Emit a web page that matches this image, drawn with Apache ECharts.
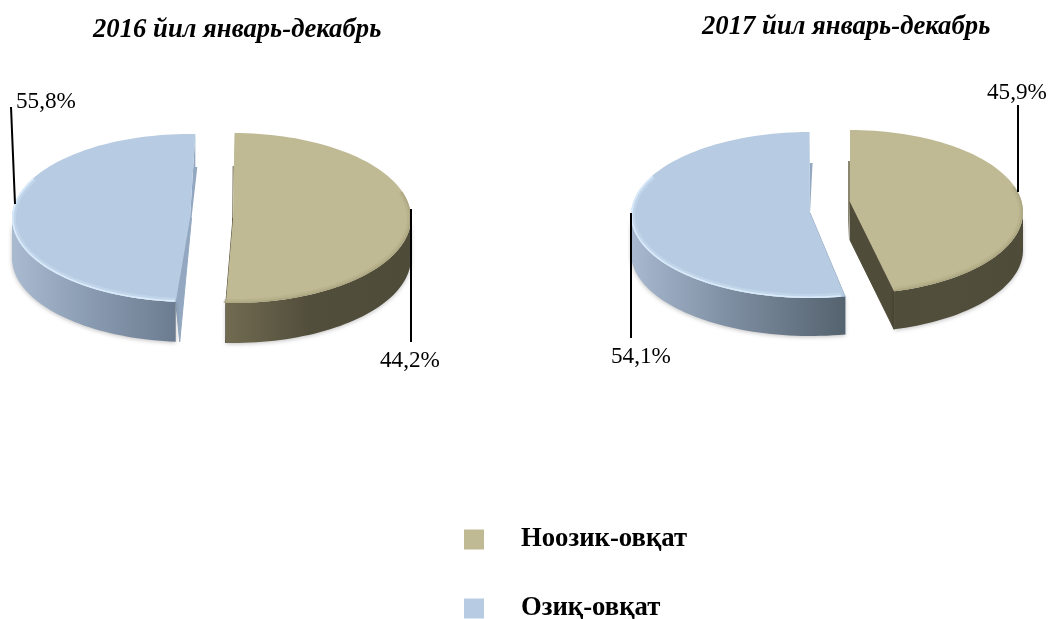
<!DOCTYPE html>
<html lang="uz">

<head>
    <meta charset="UTF-8">
    <title>Ноозиқ-овқат / Озиқ-овқат</title>
    <style>
        html, body { margin: 0; padding: 0; background: #fff; }
        #chart { width: 1049px; height: 619px; }
    </style>
</head>

<body>
    <div id="chart"></div>
    <script src="https://cdn.jsdelivr.net/npm/echarts@6/dist/echarts.min.js"></script>
    <script>
        var categories = ['Ноозик-овқат', 'Озиқ-овқат'];
        var years = ['2016 йил январь-декабрь', '2017 йил январь-декабрь'];
        // shares printed on the chart
        var printed2016 = [44.2, 55.8];
        var printed2017 = [45.9, 54.1];
        // shares as the slices are really drawn (2016 pie does not follow its own labels)
        var drawn2016 = [50.5, 49.2];
        var drawn2017 = [45.9, 53.1];

        var khaki = '#C0BA94', blue = '#B7CCE2';
        var serif = '"Liberation Serif", "Times New Roman", serif';

        // layout of each slice: [pie][category]
        var layout = [
            [
                { cx: 233, cy: 218, rx: 178, ry: 85, depth: 40, apexDy: 0, start: 0.5,
                  wall: ['#716B51', '#524E3C', '#4F4B39'], rim: ['#A8A27E', 0.7], rimRange: [72, 183],
                  backFace: '#8A8670', backDx: -2, backEnd: [-1, 10], frontDx: 0, frontApexDy: 40,
                  leader: [411, 209, 411, 342], label: [380, 361] },
                { cx: 190, cy: 218, rx: 178, ry: 84, depth: 40, apexDy: 0, start: 184.6,
                  wall: ['#A9BAD1', '#8B9DB3', '#6C7C90'], rim: ['#DCECFC', 0.9], rimRange: [185, 298],
                  backFace: '#93A8C0', backDx: 2, backEnd: [1.5, 0], frontDx: 4, frontApexDy: 0,
                  leader: [11, 107, 15, 204], label: [16, 102] }
            ],
            [
                { cx: 850, cy: 212, rx: 173, ry: 82, depth: 38, apexDy: -10, start: 0,
                  wall: ['#514D3B', '#524E3C', '#4F4B39'], rim: ['#A8A27E', 0.7], rimRange: [72, 165],
                  backFace: '#8A8670', backDx: -2, backEnd: [-2, 38], frontDx: 0, frontApexDy: 38,
                  leader: [1018, 105, 1018, 192], label: [987, 93] },
                { cx: 810, cy: 215, rx: 179, ry: 83, depth: 38, apexDy: -2, start: 168.7,
                  wall: ['#A8B9D0', '#7F8FA3', '#55636F'], rim: ['#DCECFC', 0.9], rimRange: [170, 298],
                  backFace: '#93A8C0', backDx: 3, backEnd: [0, 0], frontDx: 0, frontApexDy: 38,
                  leader: [631, 213, 631, 338], label: [611, 357] }
            ]
        ];

        // clockwise from the top of the ellipse
        function rimPoint(s, deg, dy) {
            var a = deg * Math.PI / 180;
            return [s.cx + s.rx * Math.sin(a), s.cy - s.ry * Math.cos(a) + (dy || 0)];
        }

        function arc(s, from, to, dy) {
            var pts = [];
            var n = Math.max(2, Math.ceil(Math.abs(to - from) / 2));
            for (var i = 0; i <= n; i++) {
                pts.push(rimPoint(s, from + (to - from) * i / n, dy));
            }
            return pts;
        }

        function renderSlice(catIndex, color) {
            return function (params, api) {
                var s = layout[api.value(0)][catIndex];
                var from = s.start;
                var to = from + api.value(1) * 3.6;
                var apex = [s.cx, s.cy + s.apexDy];
                var children = [];

                // cut faces behind everything else
                var topEdge = rimPoint(s, catIndex === 0 ? from : to);
                var lowEdge = rimPoint(s, catIndex === 0 ? to : from);
                var lowColor = catIndex === 0 ? '#504C3A' : '#93A8C0';
                children.push({
                    type: 'polygon',
                    shape: { points: [
                        apex, topEdge,
                        [topEdge[0], topEdge[1] + s.depth - 7],
                        [topEdge[0] + s.backDx, topEdge[1] + s.depth - 7],
                        [apex[0] + s.backEnd[0], apex[1] + s.backEnd[1]]
                    ] },
                    style: { fill: s.backFace }
                });
                children.push({
                    type: 'polygon',
                    shape: { points: [
                        apex, lowEdge,
                        [lowEdge[0] + s.frontDx, lowEdge[1] + s.depth],
                        [apex[0] + s.backEnd[0] * (s.frontApexDy ? 0 : 1), apex[1] + s.frontApexDy]
                    ] },
                    style: { fill: lowColor, stroke: lowColor, lineWidth: 1 }
                });

                // outer wall, only the part facing the viewer
                var wallFrom = Math.max(from, 90), wallTo = Math.min(to, 270);
                if (wallTo > wallFrom) {
                    var x0 = Math.min(rimPoint(s, wallFrom)[0], rimPoint(s, wallTo)[0]);
                    var x1 = Math.max(rimPoint(s, wallFrom)[0], rimPoint(s, wallTo)[0]);
                    if (wallFrom === 90) x1 = s.cx + s.rx;
                    if (wallTo === 270) x0 = s.cx - s.rx;
                    children.push({
                        type: 'polygon',
                        shape: { points: arc(s, wallFrom, wallTo, 0).concat(arc(s, wallTo, wallFrom, s.depth)) },
                        style: {
                            fill: {
                                type: 'linear', global: true, x: x0, y: 0, x2: x1, y2: 0,
                                colorStops: [
                                    { offset: 0, color: s.wall[0] },
                                    { offset: 0.45, color: s.wall[1] },
                                    { offset: 1, color: s.wall[2] }
                                ]
                            },
                            shadowBlur: 4,
                            shadowColor: 'rgba(0,0,0,0.25)',
                            shadowOffsetY: 1
                        }
                    });
                }

                // top surface
                children.push({
                    type: 'polygon',
                    shape: { points: [apex].concat(arc(s, from, to, 0)) },
                    style: { fill: color }
                });

                // soft bevel along the front rim
                var inner = { cx: s.cx, cy: s.cy, rx: s.rx - 0.8, ry: s.ry - 0.8 };
                var wide = { cx: s.cx, cy: s.cy, rx: s.rx - 2, ry: s.ry - 2 };
                children.push({
                    type: 'polyline',
                    shape: { points: arc(wide, s.rimRange[0], s.rimRange[1], 0) },
                    style: { fill: null, stroke: s.rim[0], lineWidth: 4, opacity: 0.3 }
                });
                children.push({
                    type: 'polyline',
                    shape: { points: arc(inner, s.rimRange[0], s.rimRange[1], 0) },
                    style: { fill: null, stroke: s.rim[0], lineWidth: 1.6, opacity: s.rim[1] }
                });

                // leader line and value label
                children.push({
                    type: 'line',
                    shape: { x1: s.leader[0], y1: s.leader[1], x2: s.leader[2], y2: s.leader[3] },
                    style: { stroke: '#000', lineWidth: 2 }
                });
                children.push({
                    type: 'text',
                    style: {
                        text: api.value(2).toFixed(1).replace('.', ',') + '%',
                        x: s.label[0], y: s.label[1],
                        verticalAlign: 'middle',
                        font: '23.2px ' + serif,
                        fill: '#000'
                    }
                });

                return { type: 'group', children: children };
            };
        }

        function titleAt(text, left, top) {
            return {
                text: text, left: left, top: top, padding: 0,
                textStyle: { fontFamily: serif, fontSize: 26.7, fontWeight: 'bold', fontStyle: 'italic', color: '#000' }
            };
        }

        var mCharts = echarts.init(document.getElementById('chart'), null, { renderer: 'canvas' });
        var option = {
            animation: false,
            backgroundColor: '#fff',
            title: [titleAt(years[0], 93, 17), titleAt(years[1], 702, 14)],
            legend: {
                left: 464,
                top: 526,
                height: 200,
                padding: 0,
                orient: 'vertical',
                selectedMode: false,
                icon: 'rect',
                itemWidth: 20,
                itemHeight: 20,
                itemGap: 42,
                data: categories,
                textStyle: {
                    fontFamily: serif, fontSize: 26.7, fontWeight: 'bold', color: '#000',
                    padding: [0, 0, 4, 32]
                }
            },
            series: [
                {
                    name: categories[0],
                    type: 'custom',
                    coordinateSystem: 'none',
                    itemStyle: { color: khaki },
                    renderItem: renderSlice(0, khaki),
                    data: [[0, drawn2016[0], printed2016[0]], [1, drawn2017[0], printed2017[0]]]
                },
                {
                    name: categories[1],
                    type: 'custom',
                    coordinateSystem: 'none',
                    itemStyle: { color: blue },
                    renderItem: renderSlice(1, blue),
                    data: [[0, drawn2016[1], printed2016[1]], [1, drawn2017[1], printed2017[1]]]
                }
            ]
        };
        mCharts.setOption(option);
    </script>
</body>

</html>
